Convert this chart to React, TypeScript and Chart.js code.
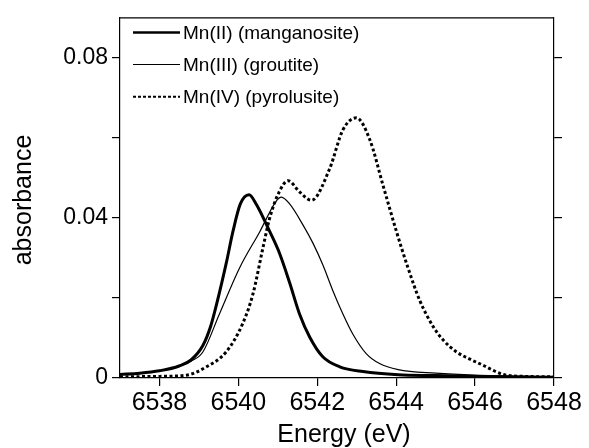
import React, { useEffect, useRef } from 'react';
import { Chart, registerables } from 'chart.js';
Chart.register(...registerables);

const FONT = '"Liberation Sans", Arial, Helvetica, sans-serif';

const seriesLabels = ['Mn(II) (manganosite)', 'Mn(III) (groutite)', 'Mn(IV) (pyrolusite)'];

const mn2Energy = [6537, 6537.5, 6538, 6538.5, 6538.8, 6539.1, 6539.3, 6539.45, 6539.7, 6539.86, 6540.05, 6540.27, 6540.45, 6540.8, 6541.05, 6541.3, 6541.55, 6541.81, 6542.14, 6542.57, 6543.16, 6544.05, 6545, 6546, 6548];
const mn2Abs = [0.0009, 0.0012, 0.0018, 0.003, 0.0045, 0.0081, 0.013, 0.0185, 0.029, 0.0365, 0.0435, 0.0458, 0.0435, 0.0365, 0.031, 0.0238, 0.016, 0.0102, 0.0053, 0.0028, 0.0016, 0.0008, 0.0006, 0.0004, 0.0002];

const mn3Energy = [6537, 6537.5, 6538, 6538.5, 6538.8, 6539.1, 6539.52, 6540.03, 6540.54, 6540.96, 6541.09, 6541.3, 6541.64, 6541.89, 6542.14, 6542.4, 6542.65, 6542.9, 6543.24, 6543.58, 6544.05, 6545, 6546, 6548];
const mn3Abs = [0.0009, 0.0012, 0.0018, 0.003, 0.0042, 0.0065, 0.016, 0.0275, 0.0365, 0.0442, 0.0452, 0.0435, 0.0382, 0.0337, 0.0283, 0.0217, 0.016, 0.011, 0.0061, 0.0036, 0.0021, 0.0012, 0.0007, 0.0003];

const mn4Energy = [6537, 6538, 6538.68, 6539.19, 6539.69, 6540.11, 6540.37, 6540.62, 6540.79, 6541.03, 6541.26, 6541.55, 6541.85, 6542.31, 6542.65, 6542.99, 6543.33, 6543.67, 6544.01, 6544.3, 6544.6, 6544.94, 6545.19, 6545.53, 6545.87, 6546.2, 6546.46, 6546.7, 6547, 6548];
const mn4Abs = [0.0003, 0.0004, 0.0007, 0.0028, 0.0065, 0.0136, 0.021, 0.0324, 0.0398, 0.0464, 0.0493, 0.0465, 0.0444, 0.0522, 0.062, 0.065, 0.0596, 0.048, 0.0365, 0.0275, 0.0193, 0.0128, 0.0095, 0.0065, 0.0047, 0.0032, 0.0019, 0.0009, 0.0005, 0.0003];

const xTicks = [6538, 6540, 6542, 6544, 6546, 6548];
const yTicks = [0, 0.02, 0.04, 0.06, 0.08];
const yTickLabels = ['0', '', '0.04', '', '0.08'];
const xTitle = 'Energy (eV)';
const yTitle = 'absorbance';

const toPoints = (xs: number[], ys: number[]) => xs.map((x, i) => ({ x, y: ys[i] }));

const overlayPlugin = {
  id: 'overlay',
  afterDraw(chart: any) {
    const { ctx, chartArea } = chart;
    ctx.save();
    ctx.strokeStyle = '#000';
    ctx.lineWidth = 1.2;
    ctx.beginPath();
    ctx.moveTo(chartArea.left, chartArea.top);
    ctx.lineTo(chartArea.right, chartArea.top);
    ctx.stroke();

    const rows = [32.5, 64.5, 96.7];
    const widths = [2.6, 1.1, 2];
    const dashes = [[], [], [3, 2]];
    ctx.font = `19px ${FONT}`;
    ctx.fillStyle = '#000';
    ctx.textBaseline = 'middle';
    ctx.textAlign = 'left';
    seriesLabels.forEach((lab, i) => {
      ctx.lineWidth = widths[i];
      ctx.setLineDash(dashes[i]);
      ctx.beginPath();
      ctx.moveTo(133, rows[i]);
      ctx.lineTo(180, rows[i]);
      ctx.stroke();
      ctx.setLineDash([]);
      ctx.fillText(lab, 183, rows[i] + 1);
    });

    ctx.font = `25px ${FONT}`;
    ctx.textAlign = 'center';
    ctx.textBaseline = 'middle';
    ctx.fillText(xTitle, 344, 435);
    ctx.translate(24, 200);
    ctx.rotate(-Math.PI / 2);
    ctx.fillText(yTitle, 0, 0);
    ctx.restore();
  },
};

export default function App() {
  const ref = useRef<HTMLCanvasElement | null>(null);
  useEffect(() => {
    if (!ref.current) return;
    const yCommon = {
      type: 'linear' as const,
      min: 0,
      max: 0.09,
      afterBuildTicks: (s: any) => {
        s.ticks = yTicks.map((v) => ({ value: v }));
      },
      grid: { drawOnChartArea: false, drawTicks: true, tickLength: 8, color: '#000', lineWidth: 1.2 },
      border: { display: true, color: '#000', width: 1.2 },
    };
    const chart = new Chart(ref.current, {
      type: 'line',
      data: {
        datasets: [
          {
            label: seriesLabels[0],
            data: toPoints(mn2Energy, mn2Abs),
            borderColor: '#000',
            borderWidth: 3,
            pointRadius: 0,
            cubicInterpolationMode: 'monotone',
          },
          {
            label: seriesLabels[1],
            data: toPoints(mn3Energy, mn3Abs),
            borderColor: '#000',
            borderWidth: 1.2,
            pointRadius: 0,
            cubicInterpolationMode: 'monotone',
          },
          {
            label: seriesLabels[2],
            data: toPoints(mn4Energy, mn4Abs),
            borderColor: '#000',
            borderWidth: 3,
            borderDash: [3, 2.5],
            borderCapStyle: 'butt',
            pointRadius: 0,
            cubicInterpolationMode: 'monotone',
          },
        ],
      },
      options: {
        animation: false,
        responsive: false,
        layout: { padding: { top: 12, left: 0, right: 0, bottom: 0 } },
        plugins: { legend: { display: false }, tooltip: { enabled: false } },
        scales: {
          x: {
            type: 'linear',
            position: 'bottom',
            min: 6537,
            max: 6548,
            afterBuildTicks: (s: any) => {
              s.ticks = xTicks.map((v) => ({ value: v }));
            },
            afterFit: (s: any) => {
              s.height = 70;
            },
            ticks: {
              callback: (v: any) => String(v),
              font: { family: FONT, size: 25 },
              color: '#000',
              padding: 2,
              maxRotation: 0,
              autoSkip: false,
            },
            grid: { drawOnChartArea: false, drawTicks: true, tickLength: 8, color: '#000', lineWidth: 1.2 },
            border: { display: true, color: '#000', width: 1.2 },
          },
          y: {
            ...yCommon,
            position: 'left',
            afterFit: (s: any) => {
              s.width = 120;
            },
            ticks: {
              callback: (_v: any, i: number) => yTickLabels[i],
              font: { family: FONT, size: 23 },
              color: '#000',
              padding: 4,
              autoSkip: false,
            },
          },
          y2: {
            ...yCommon,
            position: 'right',
            afterFit: (s: any) => {
              s.width = 35;
            },
            ticks: {
              callback: () => '',
              font: { family: FONT, size: 23 },
              padding: 0,
              autoSkip: false,
            },
          },
        },
      },
      plugins: [overlayPlugin],
    } as any);
    return () => chart.destroy();
  }, []);
  return (
    <div style={{ position: 'fixed', left: 0, top: 0, width: 589, height: 448, background: '#fff' }}>
      <canvas ref={ref} width={589} height={448} style={{ display: 'block' }} />
    </div>
  );
}
